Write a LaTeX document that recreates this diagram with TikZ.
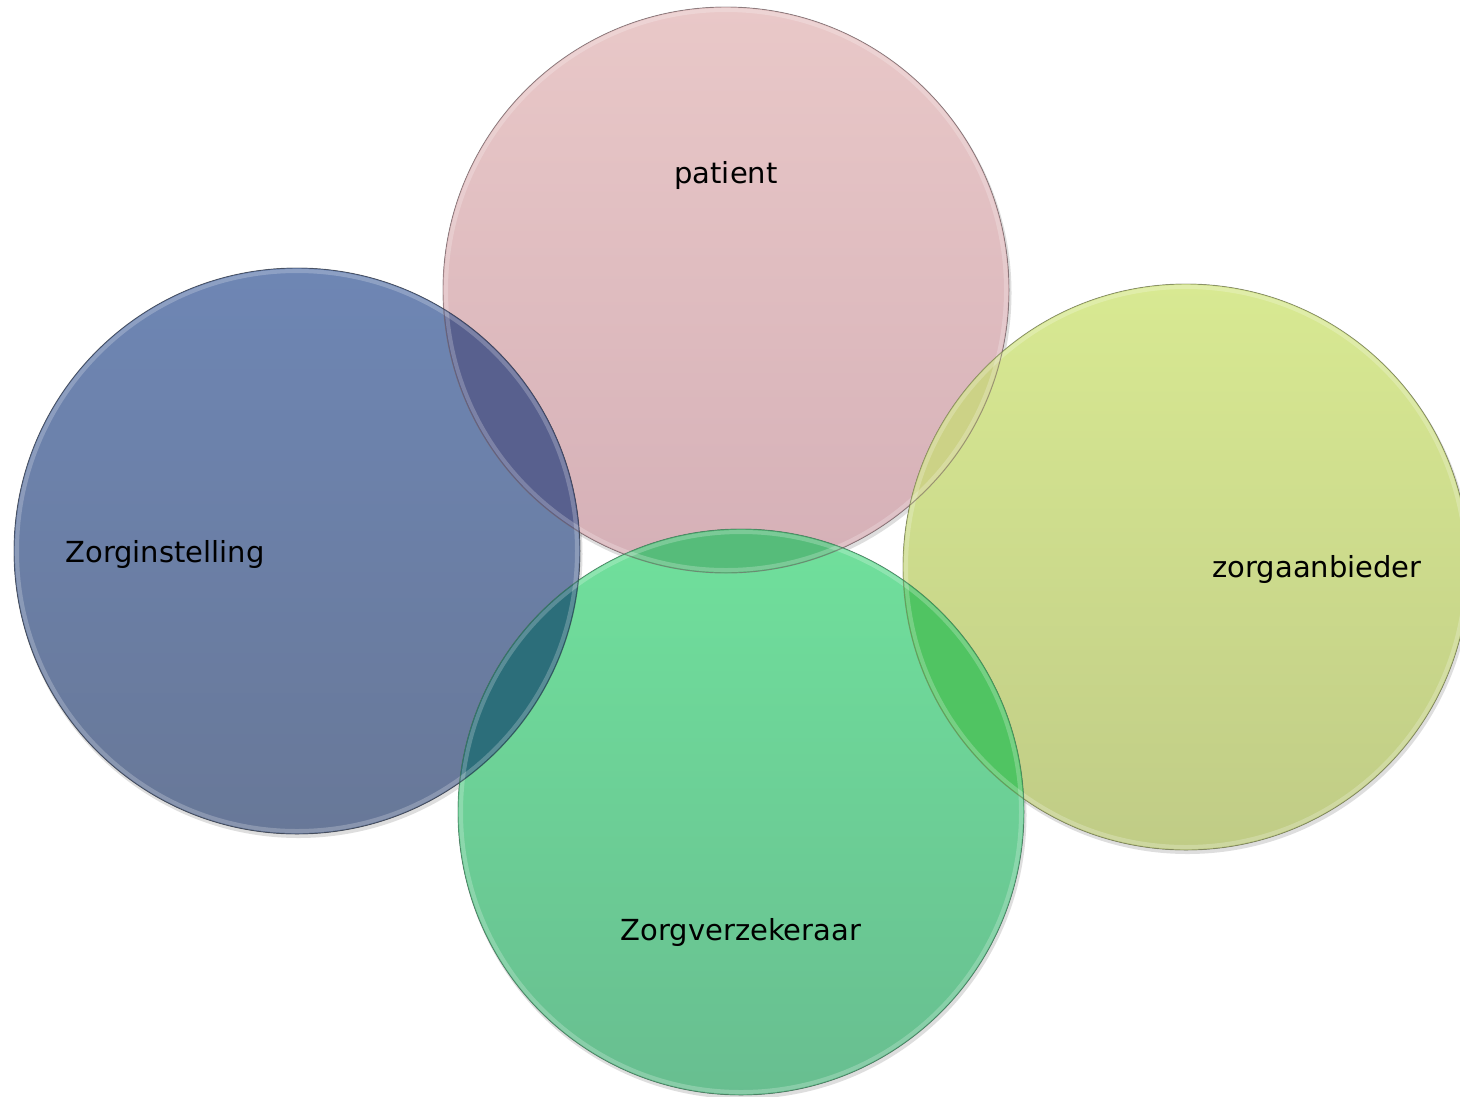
\documentclass[tikz,border=0pt]{standalone}
\usepackage{fontspec}
\setmainfont{DejaVu Sans}
\definecolor{pinkT}{RGB}{233,200,200}
\definecolor{pinkB}{RGB}{213,176,183}
\definecolor{blueT}{RGB}{110,134,180}
\definecolor{blueB}{RGB}{104,120,152}
\definecolor{yelT}{RGB}{216,233,146}
\definecolor{yelB}{RGB}{192,204,134}
\definecolor{grnT}{RGB}{112,224,156}
\definecolor{grnB}{RGB}{104,190,144}
\definecolor{lensPB}{RGB}{88,96,142}
\definecolor{lensPY}{RGB}{204,210,134}
\definecolor{lensPG}{RGB}{86,188,122}
\definecolor{lensBG}{RGB}{44,110,122}
\definecolor{lensGY}{RGB}{80,196,98}
\begin{document}
\begin{tikzpicture}[x=1pt,y=-1pt,
  vennshadow/.style={fill=black,opacity=0.13},
  venncircle/.style={shade,shading=axis},
  vennrim/.style={draw=#1,line width=0.9pt,opacity=0.6},
  vennglow/.style={draw=white,line width=4pt,opacity=0.22},
  vennlabel/.style={font=\fontsize{29}{35}\selectfont,anchor=base,text=black,inner sep=0pt}]
\useasboundingbox (0,0) rectangle (1460,1096);
\fill[white] (0,0) rectangle (1460,1096);
\coordinate (P) at (726,290);
\coordinate (B) at (297,551);
\coordinate (Y) at (1186,567);
\coordinate (G) at (741,812);
% shadows
\foreach \c in {P,B,Y,G}{\fill[vennshadow] ([shift={(1.5,3)}]\c) circle[radius=284pt];}
% circle fills
\fill[venncircle,top color=pinkT,bottom color=pinkB] (P) circle[radius=283pt];
\fill[venncircle,top color=blueT,bottom color=blueB] (B) circle[radius=283pt];
\fill[venncircle,top color=yelT,bottom color=yelB] (Y) circle[radius=283pt];
\fill[venncircle,top color=grnT,bottom color=grnB] (G) circle[radius=283pt];
% overlaps
\begin{scope}\clip (P) circle[radius=283pt];\fill[lensPB] (B) circle[radius=283pt];\end{scope}
\begin{scope}\clip (P) circle[radius=283pt];\fill[lensPY] (Y) circle[radius=283pt];\end{scope}
\begin{scope}\clip (P) circle[radius=283pt];\fill[lensPG] (G) circle[radius=283pt];\end{scope}
\begin{scope}\clip (B) circle[radius=283pt];\fill[lensBG] (G) circle[radius=283pt];\end{scope}
\begin{scope}\clip (Y) circle[radius=283pt];\fill[lensGY] (G) circle[radius=283pt];\end{scope}
% rims
\draw[vennglow] (P) circle[radius=280pt];
\draw[vennglow] (B) circle[radius=280pt];
\draw[vennglow] (Y) circle[radius=280pt];
\draw[vennglow] (G) circle[radius=280pt];
\draw[vennrim={black!45!pinkB}] (P) circle[radius=283pt];
\draw[vennrim={black!55!blueB}] (B) circle[radius=283pt];
\draw[vennrim={black!40!yelB}] (Y) circle[radius=283pt];
\draw[vennrim={black!40!grnB}] (G) circle[radius=283pt];
% labels
\node[vennlabel] (tp) at (726,183) {patient};
\node[vennlabel] (tb) at (165,562) {Zorginstelling};
\node[vennlabel] (ty) at (1317,577) {zorgaanbieder};
\node[vennlabel] (tg) at (741,940) {Zorgverzekeraar};
\end{tikzpicture}
\end{document}
